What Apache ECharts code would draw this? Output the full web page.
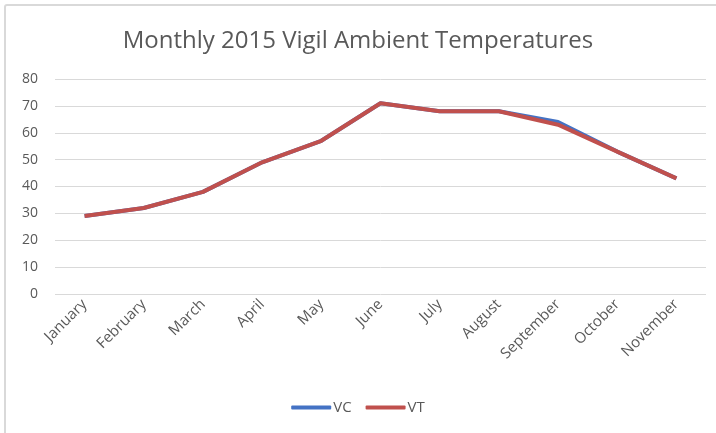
<!DOCTYPE html>
<html><head><meta charset="utf-8">
<script src="https://cdn.jsdelivr.net/npm/echarts@6/dist/echarts.min.js"></script>
<style>
html,body{margin:0;padding:0;background:#fff;overflow:hidden;}
#frame{position:absolute;left:4px;top:4px;width:730px;height:450px;border:2px solid #d9d9d9;border-radius:3px;box-sizing:border-box;}
#chart{position:absolute;left:0;top:0;width:716px;height:433px;}
</style></head>
<body>
<div id="frame"></div>
<div id="chart"></div>
<script>
const categories = ['January','February','March','April','May','June','July','August','September','October','November'];
const vcValues = [29,32,38,49,57,71,68,68,64,53,43];
const vtValues = [29,32,38,49,57,71,68,68,63,53,43];
const yTicks = {min:0, max:80, interval:10};

const chart = echarts.init(document.getElementById('chart'), null, {renderer:'canvas'});
const font = 'Open Sans, Noto Sans, sans-serif';
chart.setOption({
  animation:false,
  title:{text:'Monthly 2015 Vigil Ambient Temperatures', left:'center', top:24,
    textStyle:{fontFamily:font, fontSize:24, fontWeight:'normal', color:'#595959'}},
  legend:{bottom:13, left:'center', itemWidth:40, itemHeight:4, itemGap:14,
    icon:'roundRect',
    textStyle:{fontFamily:font, fontSize:15, color:'#595959', padding:[0,0,0,-3]},
    data:['VC','VT']},
  grid:{left:55, right:10, top:79, bottom:139},
  xAxis:{type:'category', data:categories, boundaryGap:true,
    axisLine:{show:false}, axisTick:{show:false},
    axisLabel:{rotate:45, interval:0, fontFamily:font, fontSize:15, color:'#595959', margin:8}},
  yAxis:{type:'value', min:yTicks.min, max:yTicks.max, interval:yTicks.interval,
    axisLine:{show:false}, axisTick:{show:false},
    axisLabel:{fontFamily:font, fontSize:14, color:'#595959', margin:17},
    splitLine:{lineStyle:{color:'#d9d9d9', width:1}}},
  series:[
    {name:'VC', type:'line', data:vcValues, showSymbol:false, symbol:'none',
      lineStyle:{color:'#4472C4', width:4}, itemStyle:{color:'#4472C4'}},
    {name:'VT', type:'line', data:vtValues, showSymbol:false, symbol:'none',
      lineStyle:{color:'#C0504D', width:4}, itemStyle:{color:'#C0504D'}}
  ]
});
</script>
</body></html>
